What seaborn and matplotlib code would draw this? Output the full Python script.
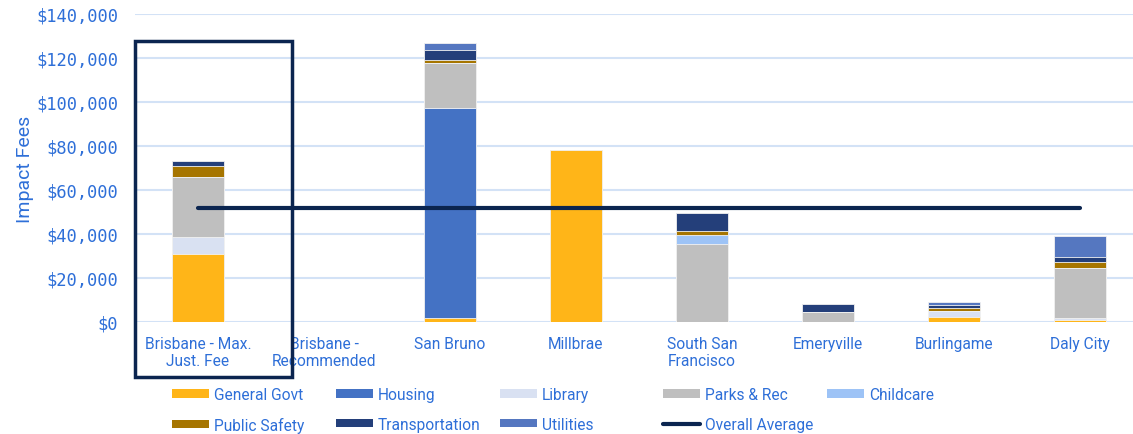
import numpy as np
import pandas as pd
import matplotlib
matplotlib.use('Agg')
import matplotlib.pyplot as plt
import seaborn as sns
from matplotlib.patches import Patch, Rectangle
from matplotlib.lines import Line2D
from matplotlib.ticker import FuncFormatter

# Dados
cidades = ['Brisbane - Max.\nJust. Fee', 'Brisbane -\nRecommended', 'San Bruno', 'Millbrae',
           'South San\nFrancisco', 'Emeryville', 'Burlingame', 'Daly City']
general_govt = [31000, 0, 1900, 78200, 0, 0, 2500, 800]
housing = [0, 0, 95200, 0, 0, 0, 0, 0]
library = [7800, 0, 0, 0, 0, 0, 2600, 1000]
parks_rec = [27000, 0, 20800, 0, 35500, 4700, 0, 22700]
childcare = [0, 0, 0, 0, 4200, 0, 0, 0]
public_safety = [5000, 0, 1300, 0, 1700, 0, 1300, 2800]
transportation = [2400, 0, 4600, 0, 8300, 3300, 1500, 2400]
utilities = [0, 0, 2900, 0, 0, 0, 1200, 9200]
media_geral = 51700

categorias = ['General Govt', 'Housing', 'Library', 'Parks & Rec', 'Childcare',
              'Public Safety', 'Transportation', 'Utilities']
cores = ['#FFB518', '#4472C4', '#D9E1F2', '#BFBFBF', '#9DC3F6',
         '#A67500', '#243F7A', '#5577C0']
series = [general_govt, housing, library, parks_rec, childcare,
          public_safety, transportation, utilities]

azul_texto = '#2E6FD8'
marinho = '#0B2550'

sns.set_theme(style='white')
plt.rcParams['font.family'] = ['Roboto', 'DejaVu Sans']

df = pd.DataFrame(dict(zip(categorias, series)), index=cidades)
acumulado = df.cumsum(axis=1)

fig = plt.figure(figsize=(11.33, 4.35), dpi=100)
ax = fig.add_axes([135 / 1133, 1 - 323 / 435, 1008 / 1133, 308 / 435])

# Barras empilhadas: desenha do topo acumulado para baixo
for cat, cor in reversed(list(zip(categorias, cores))):
    dados = pd.DataFrame({'cidade': cidades, 'valor': acumulado[cat].values})
    sns.barplot(data=dados, x='cidade', y='valor', color=cor, width=0.41,
                saturation=1, edgecolor='#F2F2F2', linewidth=0.6, ax=ax, zorder=3)

# Linha da média geral
ax.plot([0, len(cidades) - 1], [media_geral, media_geral], color=marinho,
        linewidth=3, solid_capstyle='round', zorder=4)

ax.set_xlim(-0.5, len(cidades) - 0.5)
ax.set_ylim(0, 140000)
ax.set_yticks(np.arange(0, 140001, 20000))
ax.yaxis.set_major_formatter(FuncFormatter(lambda v, p: f'${v:,.0f}'))
ax.grid(True, axis='y', color='#D3E2F6', linewidth=1.5, zorder=0)
ax.set_axisbelow(True)
for s in ax.spines.values():
    s.set_visible(False)
ax.tick_params(axis='both', length=0)
ax.tick_params(axis='x', pad=10, labelsize=11.2, labelcolor=azul_texto)
ax.tick_params(axis='y', pad=12, labelsize=12.3, labelcolor=azul_texto)
for t in ax.get_yticklabels():
    t.set_fontfamily('DejaVu Sans Mono')
ax.set_xlabel('')
ax.set_ylabel('Impact Fees', color=azul_texto, fontsize=14)
ax.yaxis.set_label_coords(-0.1, 0.5)

# Caixa de destaque em Brisbane
fig.patches.append(Rectangle((135 / 1133, 1 - 378 / 435), 157 / 1133, 336 / 435,
                             transform=fig.transFigure, fill=False,
                             edgecolor=marinho, linewidth=2.5, zorder=10))

# Legenda em colunas de largura fixa
itens = [Patch(facecolor=c, edgecolor='none') for c in cores]
linha = Line2D([0], [0], color=marinho, linewidth=3, solid_capstyle='round')
colunas = [
    ([itens[0], itens[5]], ['General Govt', 'Public Safety']),
    ([itens[1], itens[6]], ['Housing', 'Transportation']),
    ([itens[2], itens[7]], ['Library', 'Utilities']),
    ([itens[3], linha], ['Parks & Rec', 'Overall Average']),
    ([itens[4]], ['Childcare']),
]
xs = [172, 336, 500, 663, 827]
for (h, l), x in zip(colunas, xs):
    leg = fig.legend(h, l, loc='upper left', bbox_to_anchor=(x / 1133, 1 - 388 / 435),
                     frameon=False, fontsize=11.2, handlelength=2.4, handleheight=0.45,
                     handletextpad=0.3, labelspacing=0.95, borderpad=0, borderaxespad=0)
    for t in leg.get_texts():
        t.set_color(azul_texto)

fig.savefig('out.png', dpi=100)
